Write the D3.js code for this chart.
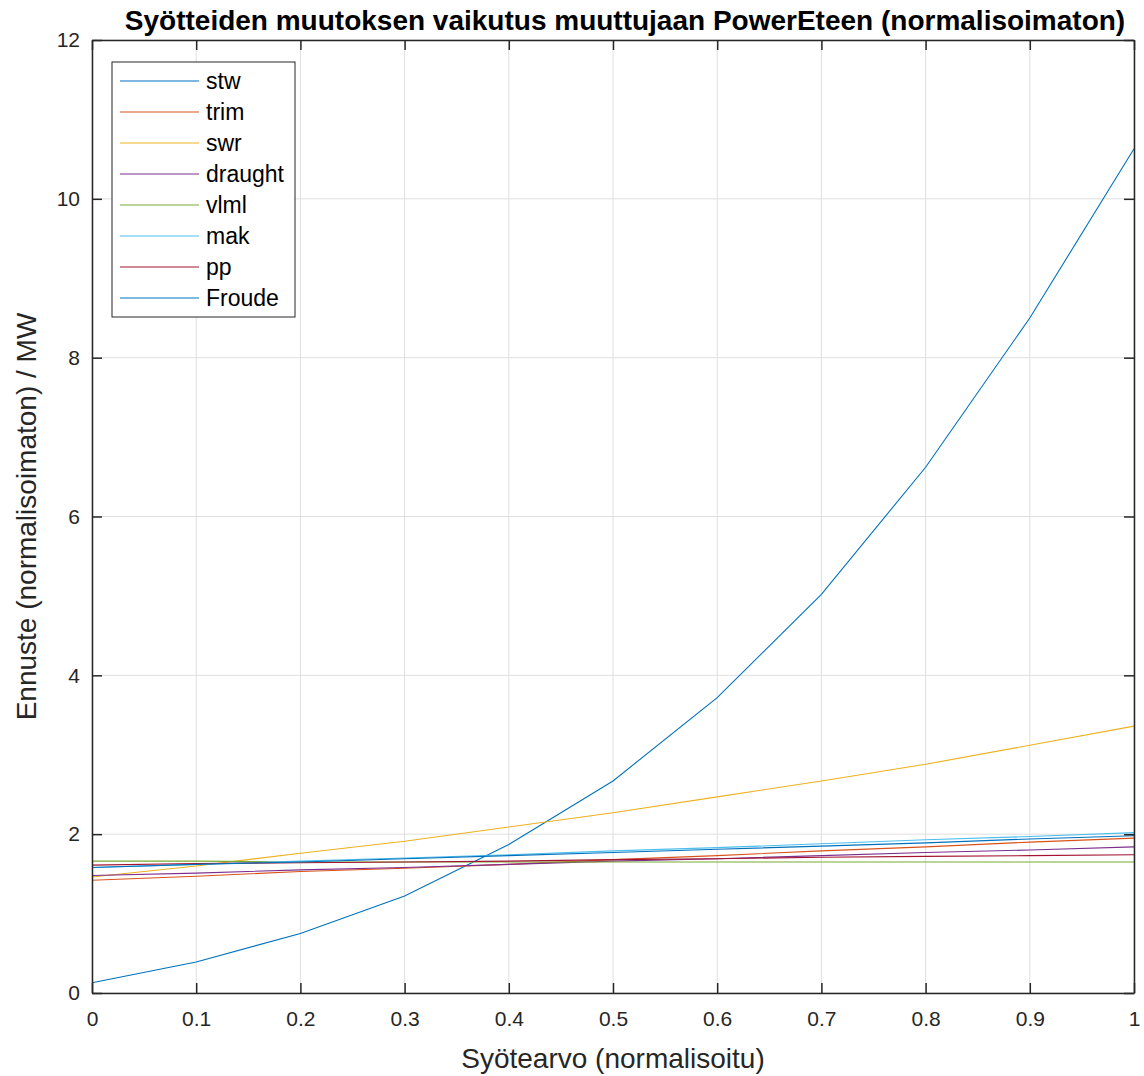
<!DOCTYPE html>
<html>
<head>
<meta charset="utf-8">
<script src="https://cdn.jsdelivr.net/npm/d3@7"></script>
<style>
    body { margin: 0; background: #fff; }
    text { font-family: "Liberation Sans", Arial, sans-serif; fill: #262626; }
</style>
</head>
<body>
<div class="svg-container"></div>
<script>
// data
const xs = [0, 0.1, 0.2, 0.3, 0.4, 0.5, 0.6, 0.7, 0.8, 0.9, 1];
const stw = [0.13, 0.39, 0.75, 1.22, 1.87, 2.67, 3.72, 5.02, 6.62, 8.50, 10.63];
const trim = [1.42, 1.47, 1.53, 1.57, 1.62, 1.68, 1.73, 1.79, 1.84, 1.90, 1.95];
const swr = [1.46, 1.60, 1.76, 1.91, 2.09, 2.27, 2.47, 2.67, 2.88, 3.12, 3.36];
const draught = [1.48, 1.51, 1.55, 1.58, 1.62, 1.66, 1.69, 1.73, 1.77, 1.80, 1.84];
const vlml = [1.66, 1.66, 1.65, 1.65, 1.65, 1.65, 1.65, 1.65, 1.65, 1.65, 1.65];
const mak = [1.58, 1.62, 1.66, 1.70, 1.74, 1.79, 1.83, 1.88, 1.93, 1.97, 2.02];
const pp = [1.61, 1.63, 1.64, 1.65, 1.66, 1.68, 1.69, 1.71, 1.72, 1.73, 1.74];
const froude = [1.58, 1.62, 1.65, 1.69, 1.73, 1.77, 1.81, 1.85, 1.89, 1.94, 1.98];

const seriesNames = ['stw', 'trim', 'swr', 'draught', 'vlml', 'mak', 'pp', 'Froude'];
const seriesValues = [stw, trim, swr, draught, vlml, mak, pp, froude];
const colors = ['#0072BD', '#D95319', '#EDB120', '#7E2F8E', '#77AC30', '#4DBEEE', '#A2142F', '#0072BD'];

const xTicks = [0, 0.1, 0.2, 0.3, 0.4, 0.5, 0.6, 0.7, 0.8, 0.9, 1];
const yTicks = [0, 2, 4, 6, 8, 10, 12];

var svg_width = 1144,
    svg_height = 1076,
    margin = {top: 40, right: 10, bottom: 83, left: 92},
    width = svg_width - margin.left - margin.right,
    height = svg_height - margin.top - margin.bottom;

var svg = d3.select('.svg-container')
    .append('svg')
    .attr('width', svg_width)
    .attr('height', svg_height);

var xScale = d3.scaleLinear().domain([0, 1]).range([0, width]),
    yScale = d3.scaleLinear().domain([0, 12]).range([height, 0]);

var g = svg.append('g')
    .attr('transform', 'translate(' + margin.left + ',' + margin.top + ')');

// grid
g.selectAll('.xgrid').data(xTicks).enter().append('line')
    .attr('x1', d => xScale(d)).attr('x2', d => xScale(d))
    .attr('y1', 0).attr('y2', height)
    .attr('stroke', '#dfdfdf').attr('stroke-width', 1);
g.selectAll('.ygrid').data(yTicks).enter().append('line')
    .attr('y1', d => yScale(d)).attr('y2', d => yScale(d))
    .attr('x1', 0).attr('x2', width)
    .attr('stroke', '#dfdfdf').attr('stroke-width', 1);

// lines
var line = d3.line()
    .x((d, i) => xScale(xs[i]))
    .y(d => yScale(d));

g.selectAll('.series')
    .data(seriesValues).enter().append('path')
    .attr('class', 'series')
    .attr('d', d => line(d))
    .attr('fill', 'none')
    .attr('stroke', (d, i) => colors[i])
    .attr('stroke-width', 1.1);

// axes, MATLAB style box with inward ticks
var tickLen = 10;
var xAxisB = g.append('g').attr('transform', 'translate(0,' + height + ')')
    .call(d3.axisBottom(xScale).tickValues(xTicks).tickSizeInner(-tickLen).tickSizeOuter(0).tickPadding(18)
        .tickFormat(d => d === 0 || d === 1 ? d3.format('d')(d) : d3.format('.1f')(d)));
var xAxisT = g.append('g')
    .call(d3.axisTop(xScale).tickValues(xTicks).tickSizeInner(-tickLen).tickSizeOuter(0).tickFormat(''));
var yAxisL = g.append('g')
    .call(d3.axisLeft(yScale).tickValues(yTicks).tickSizeInner(-tickLen).tickSizeOuter(0).tickPadding(12));
var yAxisR = g.append('g').attr('transform', 'translate(' + width + ',0)')
    .call(d3.axisRight(yScale).tickValues(yTicks).tickSizeInner(-tickLen).tickSizeOuter(0).tickFormat(''));

[xAxisB, xAxisT, yAxisL, yAxisR].forEach(function (ax) {
    ax.select('.domain').attr('stroke', '#262626').attr('stroke-width', 1.5);
    ax.selectAll('.tick line').attr('stroke', '#262626').attr('stroke-width', 1.5);
    ax.selectAll('.tick text')
        .style('font-size', '21px')
        .style('font-family', '"Liberation Sans", Arial, sans-serif')
        .attr('fill', '#262626');
});

// title and axis labels
svg.append('text')
    .attr('x', margin.left + width / 2 + 12)
    .attr('y', 30)
    .attr('text-anchor', 'middle')
    .style('font-size', '28px')
    .style('font-weight', 'bold')
    .style('fill', '#000')
    .text('Syötteiden muutoksen vaikutus muuttujaan PowerEteen (normalisoimaton)');

svg.append('text')
    .attr('x', margin.left + width / 2)
    .attr('y', 1068)
    .attr('text-anchor', 'middle')
    .style('font-size', '28px')
    .text('Syötearvo (normalisoitu)');

svg.append('text')
    .attr('transform', 'translate(36,' + (margin.top + height / 2) + ') rotate(-90)')
    .attr('text-anchor', 'middle')
    .style('font-size', '28px')
    .text('Ennuste (normalisoimaton) / MW');

// legend
var legend = g.append('g').attr('transform', 'translate(20,22)');
legend.append('rect')
    .attr('width', 183).attr('height', 255)
    .attr('fill', '#fff').attr('stroke', '#262626').attr('stroke-width', 1);
var item = legend.selectAll('.item')
    .data(seriesNames).enter().append('g')
    .attr('transform', (d, i) => 'translate(0,' + (19 + i * 31) + ')');
item.append('line')
    .attr('x1', 8).attr('x2', 87)
    .attr('stroke', (d, i) => colors[i]).attr('stroke-width', 1.1);
item.append('text')
    .attr('x', 94).attr('y', 8)
    .style('font-size', '23px')
    .style('fill', '#000')
    .text(d => d);
</script>
</body>
</html>
